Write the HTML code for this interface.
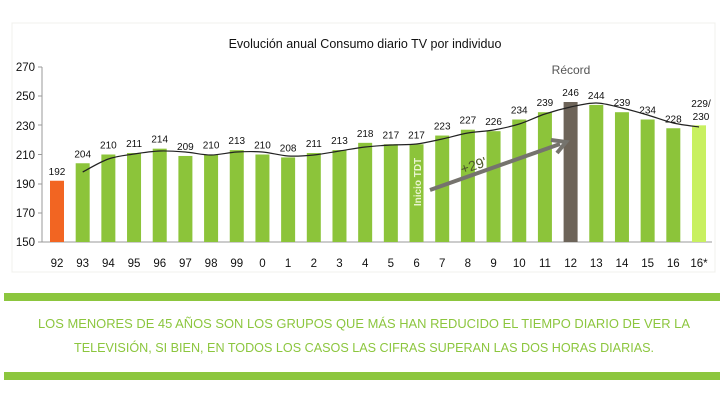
<!DOCTYPE html>
<html><head><meta charset="utf-8"><style>
body{margin:0;background:#fff;width:728px;height:400px;overflow:hidden}
svg text{font-family:"Liberation Sans",sans-serif}
</style></head><body>
<svg width="728" height="400" viewBox="0 0 728 400" xmlns="http://www.w3.org/2000/svg">
<rect x="12" y="23" width="703" height="249" fill="#fff" stroke="#f0f0ec" stroke-width="1"/>
<text x="365" y="48" font-size="12.5" text-anchor="middle" fill="#111">Evolución anual Consumo diario TV por individuo</text>
<g font-size="11.5" fill="#111" text-anchor="end">
<text x="35" y="71">270</text><text x="35" y="100">250</text><text x="35" y="130">230</text><text x="35" y="159">210</text><text x="35" y="188">190</text><text x="35" y="217">170</text><text x="35" y="246">150</text>
</g>
<g stroke="#999" stroke-width="1">
<line x1="42" y1="67" x2="42" y2="242"/>
<line x1="38" y1="67" x2="42" y2="67"/><line x1="38" y1="96" x2="42" y2="96"/><line x1="38" y1="125" x2="42" y2="125"/><line x1="38" y1="154.5" x2="42" y2="154.5"/><line x1="38" y1="184" x2="42" y2="184"/><line x1="38" y1="213" x2="42" y2="213"/>
<line x1="38" y1="242" x2="712" y2="242"/>
</g>
<g id="bars"></g>
<path id="trend" d="" fill="none" stroke="#222" stroke-width="1.2"/>
<line x1="430" y1="190" x2="560" y2="144" stroke="#75736d" stroke-width="4"/>
<polyline points="551,140 566,142 557,153" fill="none" stroke="#75736d" stroke-width="4" stroke-linejoin="miter"/>
<text x="475" y="170" font-size="14" fill="#4e5a2c" transform="rotate(-18 475 170)" text-anchor="middle">+29'</text>
<text x="421" y="182" font-size="10" font-weight="bold" fill="#eaf5d0" transform="rotate(-90 421 182)" text-anchor="middle">Inicio TDT</text>
<text x="571" y="74" font-size="12" fill="#555" text-anchor="middle">Récord</text>
<g font-size="11.5" fill="#111" text-anchor="middle" id="xl"></g>
<g font-size="10" fill="#111" text-anchor="middle" id="vl"></g>
<rect x="4" y="293" width="716" height="8" fill="#8cc63e"/>
<rect x="4" y="372" width="716" height="8" fill="#8cc63e"/>
<g font-size="13" fill="#8cc63e" text-anchor="middle">
<text x="364" y="328" textLength="652" lengthAdjust="spacingAndGlyphs">LOS MENORES DE 45 AÑOS SON LOS GRUPOS QUE MÁS HAN REDUCIDO EL TIEMPO DIARIO DE VER LA</text>
<text x="364" y="352" textLength="580" lengthAdjust="spacingAndGlyphs">TELEVISIÓN, SI BIEN, EN TODOS LOS CASOS LAS CIFRAS SUPERAN LAS DOS HORAS DIARIAS.</text>
</g>
</svg>
<script>
var labs=["92","93","94","95","96","97","98","99","0","1","2","3","4","5","6","7","8","9","10","11","12","13","14","15","16","16*"];
var vals=[192,204,210,211,214,209,210,213,210,208,211,213,218,217,217,223,227,226,234,239,246,244,239,234,228,230];
var ns="http://www.w3.org/2000/svg";
var b=document.getElementById("bars"),xl=document.getElementById("xl"),vl=document.getElementById("vl");
for(var i=0;i<26;i++){
 var cx=57+i*25.68,v=vals[i],y=242-(v-150)*1.4583;
 var r=document.createElementNS(ns,"rect");
 r.setAttribute("x",cx-7);r.setAttribute("y",y);r.setAttribute("width",14);r.setAttribute("height",242-y);
 r.setAttribute("fill",i==0?"#f26522":i==20?"#6d6459":i==25?"#c8f060":"#8cc43a");
 b.appendChild(r);
 var t=document.createElementNS(ns,"text");t.setAttribute("x",cx);t.setAttribute("y",267);t.textContent=labs[i];xl.appendChild(t);
 if(i==25){
  var a=document.createElementNS(ns,"text");a.setAttribute("x",cx+2);a.setAttribute("y",107);a.textContent="229/";vl.appendChild(a);
  var c=document.createElementNS(ns,"text");c.setAttribute("x",cx+2);c.setAttribute("y",120);c.textContent="230";vl.appendChild(c);
 } else {
  var u=document.createElementNS(ns,"text");u.setAttribute("x",cx);u.setAttribute("y",y-6);u.textContent=v;vl.appendChild(u);
 }
}
var ly=[172,159,154,151,152,155,152,152,156,155,151,147,145,144,139,133,130,124,114,107,103,108,115,123,127];
var pts=[];for(var k=0;k<ly.length;k++)pts.push([57+(k+1)*25.68,ly[k]]);
var d="M"+pts[0][0]+","+pts[0][1];
for(var k=0;k<pts.length-1;k++){
 var p0=pts[k-1]||pts[k],p1=pts[k],p2=pts[k+1],p3=pts[k+2]||p2;
 d+=" C"+(p1[0]+(p2[0]-p0[0])/6)+","+(p1[1]+(p2[1]-p0[1])/6)+" "+(p2[0]-(p3[0]-p1[0])/6)+","+(p2[1]-(p3[1]-p1[1])/6)+" "+p2[0]+","+p2[1];
}
document.getElementById("trend").setAttribute("d",d);
</script>
</body></html>
